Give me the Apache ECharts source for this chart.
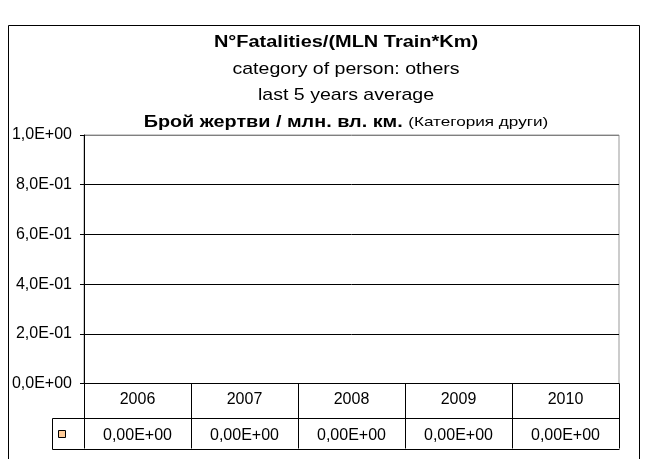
<!DOCTYPE html>
<html>
<head>
<meta charset="utf-8">
<script src="https://cdn.jsdelivr.net/npm/echarts@6/dist/echarts.min.js"></script>
<style>
html,body{margin:0;padding:0;background:#fff;}
#c{width:653px;height:459px;}
</style>
</head>
<body>
<div id="c"></div>
<script>
// ---- data ----
const categories = ['2006', '2007', '2008', '2009', '2010'];
const values = [0, 0, 0, 0, 0];
const yMin = 0, yMax = 1, yInterval = 0.2;
const titleLine1 = 'N°Fatalities/(MLN Train*Km)';
const titleLine2 = 'category of person: others';
const titleLine3 = 'last 5 years average';
const titleLine4Bold = 'Брой жертви / млн. вл. км.';
const titleLine4Small = '(Категория други)';
const seriesColor = '#FFCC99';

// ---- helpers ----
const FONT = '"Liberation Sans", Arial, sans-serif';
function sci(v, digits) {
  if (v === 0) return (0).toFixed(digits).replace('.', ',') + 'E+00';
  let e = Math.floor(Math.log10(Math.abs(v)) + 1e-9);
  let m = v / Math.pow(10, e);
  let ms = m.toFixed(digits);
  if (Math.abs(parseFloat(ms)) >= 10) { e += 1; ms = (v / Math.pow(10, e)).toFixed(digits); }
  const sign = e < 0 ? '-' : '+';
  const ex = String(Math.abs(e)).padStart(2, '0');
  return ms.replace('.', ',') + 'E' + sign + ex;
}

const GRID = { left: 84, top: 135, width: 535, height: 248.5 };
const HEADER_H = 34, ROW_H = 31, LEGEND_CELL_W = 32;

const chart = echarts.init(document.getElementById('c'), null, { renderer: 'canvas' });
const option = {
  animation: false,
  backgroundColor: '#fff',
  textStyle: { fontFamily: FONT, color: '#000' },
  grid: Object.assign({ show: true, borderColor: '#999', borderWidth: 1, backgroundColor: 'transparent' }, GRID),
  xAxis: [{
    type: 'category',
    data: categories,
    position: 'bottom',
    boundaryGap: true,
    axisLine: { show: true, lineStyle: { color: '#000', width: 1 } },
    axisTick: { show: true, alignWithLabel: false, length: HEADER_H + ROW_H, lineStyle: { color: '#000' } },
    axisLabel: { show: true, fontSize: 16, color: '#000', fontFamily: FONT, margin: 8.5 },
    splitLine: { show: false }
  }, {
    type: 'category',
    data: categories,
    position: 'bottom',
    offset: HEADER_H,
    boundaryGap: true,
    axisLine: { show: false },
    axisTick: { show: false },
    axisLabel: {
      show: true, fontSize: 16, color: '#000', fontFamily: FONT, margin: 10,
      formatter: function (val, idx) { return sci(values[idx], 2); }
    },
    splitLine: { show: false }
  }],
  yAxis: {
    type: 'value',
    min: yMin, max: yMax, interval: yInterval,
    axisLine: { show: true, lineStyle: { color: '#000', width: 1 } },
    axisTick: { show: true, length: 4, lineStyle: { color: '#000' } },
    axisLabel: { fontSize: 16, color: '#000', fontFamily: FONT, margin: 12, formatter: function (v) { return sci(v, 1); } },
    splitLine: { show: true, lineStyle: { color: ['#000', '#000', '#000', '#000', '#000', '#808080'], width: 1 } }
  },
  series: [{
    type: 'bar',
    xAxisIndex: 0,
    data: values,
    itemStyle: { color: seriesColor, borderColor: '#000', borderWidth: 1 }
  }]
};
chart.setOption(option);

// ---- table borders, legend key and titles (derived from grid/axis) ----
const x0 = chart.convertToPixel({ xAxisIndex: 0 }, categories[0]);
const x1 = chart.convertToPixel({ xAxisIndex: 0 }, categories[1]);
const band = x1 - x0;
const left = x0 - band / 2;
const right = chart.convertToPixel({ xAxisIndex: 0 }, categories[categories.length - 1]) + band / 2;
const base = Math.round(chart.convertToPixel({ yAxisIndex: 0 }, yMin));
const rowTop = base + HEADER_H + 0.5;
const rowBot = base + HEADER_H + ROW_H + 0.5;
const legX = Math.round(left) - LEGEND_CELL_W + 0.5;
const TCX = 346;

function titleText(text, y, size, bold, sx) {
  return {
    type: 'text', x: TCX, y: y, scaleX: sx, scaleY: 1, silent: true,
    style: { text: text, x: 0, y: 0, textAlign: 'center', textVerticalAlign: 'middle',
      font: (bold ? 'bold ' : '') + size + 'px ' + FONT, fill: '#000' }
  };
}

chart.setOption({
  graphic: [
    { type: 'rect', silent: true, shape: { x: 8.5, y: 25.5, width: 631, height: 480 },
      style: { fill: 'none', stroke: '#000', lineWidth: 1 } },
    { type: 'line', silent: true, shape: { x1: legX, y1: rowTop, x2: Math.round(right) + 0.5, y2: rowTop },
      style: { stroke: '#000', lineWidth: 1 } },
    { type: 'line', silent: true, shape: { x1: legX, y1: rowBot, x2: Math.round(right) + 0.5, y2: rowBot },
      style: { stroke: '#000', lineWidth: 1 } },
    { type: 'line', silent: true, shape: { x1: legX, y1: rowTop, x2: legX, y2: rowBot },
      style: { stroke: '#000', lineWidth: 1 } },
    { type: 'rect', silent: true,
      shape: { x: legX + 6, y: rowTop + 12, width: 7, height: 7 },
      style: { fill: seriesColor, stroke: '#000', lineWidth: 1 } },
    titleText(titleLine1, 42.5, 15.6, true, 1.28),
    titleText(titleLine2, 69, 17, false, 1.15),
    titleText(titleLine3, 95.5, 17, false, 1.15),
    {
      type: 'text', x: TCX, y: 122.5, scaleX: 1.27, scaleY: 1, silent: true,
      style: {
        text: '{b|' + titleLine4Bold + '} {r|' + titleLine4Small + '}',
        x: 0, y: 0, textAlign: 'center', textVerticalAlign: 'middle', fill: '#000',
        font: '15.6px ' + FONT,
        rich: {
          b: { fontWeight: 'bold', fontSize: 15.6, fontFamily: FONT, fill: '#000' },
          r: { fontSize: 13.5, fontFamily: FONT, fill: '#000' }
        }
      }
    }
  ]
});
</script>
</body>
</html>
